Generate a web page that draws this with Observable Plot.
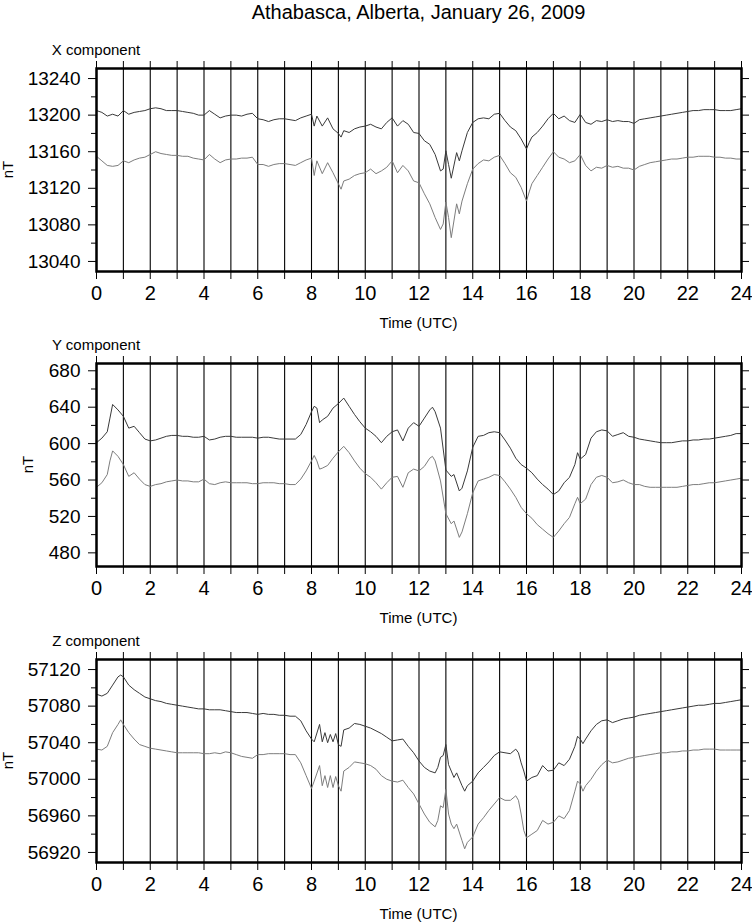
<!DOCTYPE html>
<html><head><meta charset="utf-8">
<script src="https://cdn.jsdelivr.net/npm/d3@7"></script>
<script src="https://cdn.jsdelivr.net/npm/@observablehq/plot@0.6"></script>
<style>
html,body{margin:0;padding:0;background:#fff;overflow:hidden;}
#root{position:relative;width:752px;height:923px;font-family:"Liberation Sans",Arial,Helvetica,sans-serif;}
#root svg{position:absolute;left:0;}
</style></head><body><div id="root"></div>
<script>
const chartTitle = "Athabasca, Alberta, January 26, 2009";
const xAxisLabel = "Time (UTC)";
const yAxisLabel = "nT";
const hourTicks = [0,1,2,3,4,5,6,7,8,9,10,11,12,13,14,15,16,17,18,19,20,21,22,23,24];

// X component: [hour UTC, nT]
const xUpper = [[0,13205],[0.2,13203],[0.4,13199],[0.6,13201],[0.8,13199],[1,13205],[1.2,13201],[1.4,13203],[1.6,13204],[1.8,13205],[2,13207],[2.2,13208],[2.4,13207],[2.6,13205],[2.8,13205],[3,13205],[3.2,13204],[3.4,13203],[3.6,13202],[3.8,13200],[4,13200],[4.2,13205],[4.4,13201],[4.6,13197],[4.8,13199],[5,13200],[5.2,13200],[5.4,13199],[5.6,13201],[5.8,13202],[6,13196],[6.2,13195],[6.4,13193],[6.6,13195],[6.8,13196],[7,13196],[7.2,13195],[7.4,13194],[7.6,13197],[7.8,13199],[8,13201],[8.1,13188],[8.2,13199],[8.4,13188],[8.6,13197],[8.8,13185],[9,13180],[9.1,13176],[9.2,13183],[9.4,13181],[9.6,13185],[9.8,13187],[10,13188],[10.2,13190],[10.4,13187],[10.6,13185],[10.8,13192],[11,13197],[11.2,13188],[11.4,13194],[11.6,13190],[11.8,13181],[12,13180],[12.2,13172],[12.4,13168],[12.6,13157],[12.8,13139],[12.9,13141],[13,13161],[13.1,13146],[13.2,13131],[13.4,13159],[13.5,13150],[13.6,13161],[13.8,13181],[14,13192],[14.2,13196],[14.4,13197],[14.6,13196],[14.8,13201],[15,13202],[15.2,13194],[15.4,13187],[15.6,13183],[15.8,13174],[16,13163],[16.1,13170],[16.2,13176],[16.4,13181],[16.6,13188],[16.8,13196],[17,13202],[17.2,13196],[17.4,13199],[17.6,13194],[17.8,13192],[18,13201],[18.2,13192],[18.4,13190],[18.6,13194],[18.8,13193],[19,13195],[19.2,13193],[19.4,13194],[19.6,13193],[19.8,13193],[20,13191],[20.2,13195],[20.4,13196],[20.6,13197],[20.8,13198],[21,13199],[21.2,13200],[21.4,13201],[21.6,13202],[21.8,13203],[22,13204],[22.2,13205],[22.4,13205],[22.6,13206],[22.8,13206],[23,13206],[23.2,13205],[23.4,13205],[23.6,13205],[23.8,13206],[24,13207]];
const xLower = [[0,13155],[0.2,13150],[0.4,13145],[0.6,13144],[0.8,13145],[1,13150],[1.2,13148],[1.4,13151],[1.6,13153],[1.8,13154],[2,13157],[2.2,13160],[2.4,13158],[2.6,13157],[2.8,13156],[3,13156],[3.2,13155],[3.4,13155],[3.6,13153],[3.8,13152],[4,13151],[4.2,13157],[4.4,13152],[4.6,13148],[4.8,13151],[5,13152],[5.2,13152],[5.4,13153],[5.6,13153],[5.8,13154],[6,13146],[6.2,13146],[6.4,13144],[6.6,13146],[6.8,13147],[7,13147],[7.2,13146],[7.4,13145],[7.6,13148],[7.8,13151],[8,13153],[8.1,13134],[8.2,13150],[8.4,13136],[8.6,13148],[8.8,13137],[9,13125],[9.1,13119],[9.2,13128],[9.4,13130],[9.6,13134],[9.8,13136],[10,13137],[10.2,13141],[10.4,13136],[10.6,13139],[10.8,13143],[11,13150],[11.2,13137],[11.4,13145],[11.6,13139],[11.8,13128],[12,13126],[12.2,13114],[12.4,13103],[12.6,13088],[12.8,13075],[12.9,13081],[13,13105],[13.1,13088],[13.2,13066],[13.4,13103],[13.5,13092],[13.6,13106],[13.8,13125],[14,13141],[14.2,13147],[14.4,13151],[14.6,13150],[14.8,13154],[15,13156],[15.2,13147],[15.4,13137],[15.6,13132],[15.8,13121],[16,13106],[16.1,13116],[16.2,13125],[16.4,13134],[16.6,13143],[16.8,13152],[17,13160],[17.2,13154],[17.4,13152],[17.6,13148],[17.8,13150],[18,13157],[18.2,13145],[18.4,13139],[18.6,13143],[18.8,13142],[19,13145],[19.2,13143],[19.4,13144],[19.6,13142],[19.8,13142],[20,13140],[20.2,13144],[20.4,13146],[20.6,13148],[20.8,13149],[21,13150],[21.2,13151],[21.4,13152],[21.6,13152],[21.8,13153],[22,13154],[22.2,13154],[22.4,13155],[22.6,13155],[22.8,13155],[23,13154],[23.2,13154],[23.4,13153],[23.6,13153],[23.8,13152],[24,13152]];

// Y component
const yUpper = [[0,601],[0.2,606],[0.4,613],[0.5,628],[0.6,643],[0.8,637],[1,630],[1.2,617],[1.4,619],[1.6,612],[1.8,605],[2,603],[2.2,604],[2.4,606],[2.6,608],[2.8,609],[3,609],[3.2,608],[3.4,608],[3.6,607],[3.8,607],[4,608],[4.2,604],[4.4,605],[4.6,607],[4.8,608],[5,608],[5.2,607],[5.4,607],[5.6,607],[5.8,607],[6,606],[6.2,607],[6.4,607],[6.6,606],[6.8,605],[7,605],[7.2,605],[7.4,605],[7.6,610],[7.8,621],[8,635],[8.1,641],[8.2,639],[8.3,623],[8.4,626],[8.6,630],[8.8,639],[9,644],[9.2,650],[9.4,641],[9.6,632],[9.8,624],[10,617],[10.2,613],[10.4,608],[10.6,601],[10.8,608],[11,613],[11.2,615],[11.4,603],[11.6,617],[11.8,623],[12,619],[12.2,628],[12.4,637],[12.5,640],[12.6,635],[12.8,617],[13,571],[13.2,564],[13.3,566],[13.5,548],[13.6,551],[13.8,570],[14,596],[14.2,608],[14.4,609],[14.6,612],[14.8,613],[15,612],[15.2,604],[15.4,595],[15.6,584],[15.8,577],[16,573],[16.2,568],[16.4,561],[16.6,555],[16.8,550],[17,544],[17.2,548],[17.4,557],[17.6,563],[17.8,577],[17.9,590],[18,583],[18.2,588],[18.4,606],[18.6,613],[18.8,615],[19,614],[19.2,608],[19.4,610],[19.6,612],[19.8,608],[20,607],[20.2,605],[20.4,604],[20.6,603],[20.8,602],[21,601],[21.2,601],[21.4,601],[21.6,602],[21.8,603],[22,603],[22.2,604],[22.4,604],[22.6,605],[22.8,605],[23,606],[23.2,607],[23.4,608],[23.6,609],[23.8,611],[24,611]];
const yLower = [[0,552],[0.2,557],[0.4,566],[0.5,581],[0.6,592],[0.8,586],[1,577],[1.2,564],[1.4,568],[1.6,561],[1.8,555],[2,553],[2.2,555],[2.4,556],[2.6,558],[2.8,559],[3,560],[3.2,559],[3.4,559],[3.6,558],[3.8,558],[4,561],[4.2,556],[4.4,555],[4.6,557],[4.8,558],[5,557],[5.2,557],[5.4,557],[5.6,557],[5.8,556],[6,556],[6.2,557],[6.4,557],[6.6,557],[6.8,556],[7,556],[7.2,555],[7.4,555],[7.6,561],[7.8,570],[8,581],[8.1,587],[8.2,581],[8.3,572],[8.4,573],[8.6,576],[8.8,584],[9,591],[9.2,597],[9.4,590],[9.6,581],[9.8,573],[10,567],[10.2,563],[10.4,557],[10.6,550],[10.8,557],[11,563],[11.2,564],[11.4,552],[11.6,568],[11.8,572],[12,570],[12.2,575],[12.4,584],[12.5,586],[12.6,581],[12.8,559],[13,523],[13.2,512],[13.3,515],[13.5,497],[13.6,503],[13.8,523],[14,546],[14.2,559],[14.4,561],[14.6,563],[14.8,566],[15,565],[15.2,558],[15.4,550],[15.6,541],[15.8,530],[16,523],[16.2,518],[16.4,511],[16.6,506],[16.8,501],[17,497],[17.2,504],[17.4,512],[17.6,519],[17.8,534],[17.9,541],[18,534],[18.2,539],[18.4,555],[18.6,563],[18.8,565],[19,563],[19.2,557],[19.4,558],[19.6,560],[19.8,557],[20,555],[20.2,555],[20.4,553],[20.6,552],[20.8,552],[21,552],[21.2,552],[21.4,552],[21.6,552],[21.8,553],[22,554],[22.2,555],[22.4,555],[22.6,556],[22.8,557],[23,557],[23.2,558],[23.4,559],[23.6,560],[23.8,561],[24,562]];

// Z component
const zUpper = [[0,57093],[0.2,57091],[0.4,57094],[0.6,57103],[0.8,57112],[0.9,57114],[1,57112],[1.2,57103],[1.4,57098],[1.6,57094],[1.8,57090],[2,57088],[2.2,57086],[2.4,57085],[2.6,57083],[2.8,57082],[3,57081],[3.2,57080],[3.4,57079],[3.6,57078],[3.8,57077],[4,57077],[4.2,57076],[4.4,57076],[4.6,57076],[4.8,57075],[5,57074],[5.2,57073],[5.4,57073],[5.6,57073],[5.8,57072],[6,57071],[6.2,57072],[6.4,57071],[6.6,57071],[6.8,57070],[7,57070],[7.2,57069],[7.4,57069],[7.6,57064],[7.8,57053],[8,57044],[8.1,57041],[8.3,57060],[8.4,57041],[8.5,57051],[8.6,57040],[8.7,57049],[8.8,57041],[8.9,57050],[9,57038],[9.1,57036],[9.2,57054],[9.4,57056],[9.6,57061],[9.8,57060],[10,57058],[10.2,57056],[10.4,57053],[10.6,57050],[10.8,57046],[11,57042],[11.2,57043],[11.4,57044],[11.6,57036],[11.8,57029],[12,57020],[12.2,57013],[12.4,57009],[12.6,57007],[12.7,57013],[12.8,57024],[12.9,57026],[13,57038],[13.1,57016],[13.2,57009],[13.3,57002],[13.4,57007],[13.6,56993],[13.7,56987],[13.8,56993],[14,56998],[14.2,57007],[14.4,57013],[14.6,57019],[14.8,57026],[15,57030],[15.2,57029],[15.4,57028],[15.6,57033],[15.7,57029],[15.8,57018],[15.9,57009],[16,56998],[16.2,57002],[16.4,57004],[16.6,57015],[16.8,57009],[17,57010],[17.2,57018],[17.4,57015],[17.6,57022],[17.8,57036],[17.9,57047],[18,57044],[18.1,57039],[18.2,57044],[18.4,57053],[18.6,57060],[18.8,57064],[19,57065],[19.2,57062],[19.4,57064],[19.6,57066],[19.8,57067],[20,57068],[20.2,57070],[20.4,57071],[20.6,57072],[20.8,57073],[21,57074],[21.2,57075],[21.4,57076],[21.6,57077],[21.8,57078],[22,57079],[22.2,57080],[22.4,57081],[22.6,57081],[22.8,57082],[23,57083],[23.2,57083],[23.4,57084],[23.6,57085],[23.8,57086],[24,57087]];
const zLower = [[0,57033],[0.2,57032],[0.4,57036],[0.6,57051],[0.8,57060],[0.9,57065],[1,57060],[1.2,57051],[1.4,57044],[1.6,57038],[1.8,57036],[2,57034],[2.2,57033],[2.4,57032],[2.6,57031],[2.8,57030],[3,57029],[3.2,57029],[3.4,57029],[3.6,57029],[3.8,57029],[4,57028],[4.2,57028],[4.4,57029],[4.6,57028],[4.8,57030],[5,57029],[5.2,57027],[5.4,57025],[5.6,57024],[5.8,57023],[6,57027],[6.2,57027],[6.4,57028],[6.6,57028],[6.8,57028],[7,57028],[7.2,57027],[7.4,57027],[7.6,57018],[7.8,57004],[8,56990],[8.1,56998],[8.3,57015],[8.4,56993],[8.5,57004],[8.6,56991],[8.7,57004],[8.8,56991],[8.9,57003],[9,56993],[9.1,56987],[9.2,57009],[9.4,57013],[9.6,57019],[9.8,57018],[10,57017],[10.2,57015],[10.4,57011],[10.6,57004],[10.8,57000],[11,56998],[11.2,56997],[11.4,56999],[11.6,56991],[11.8,56984],[12,56973],[12.2,56962],[12.4,56953],[12.6,56948],[12.7,56955],[12.8,56971],[12.9,56969],[13,56989],[13.1,56962],[13.2,56951],[13.3,56946],[13.4,56951],[13.6,56933],[13.7,56924],[13.8,56931],[14,56937],[14.2,56951],[14.4,56958],[14.6,56966],[14.8,56973],[15,56980],[15.2,56977],[15.4,56977],[15.6,56982],[15.7,56977],[15.8,56962],[15.9,56944],[16,56936],[16.2,56940],[16.4,56944],[16.6,56955],[16.8,56951],[17,56953],[17.2,56960],[17.4,56957],[17.6,56966],[17.8,56987],[17.9,56998],[18,56995],[18.1,56987],[18.2,56993],[18.4,57000],[18.6,57009],[18.8,57016],[19,57021],[19.2,57018],[19.4,57019],[19.6,57021],[19.8,57023],[20,57024],[20.2,57025],[20.4,57026],[20.6,57027],[20.8,57028],[21,57029],[21.2,57029],[21.4,57030],[21.6,57030],[21.8,57031],[22,57031],[22.2,57032],[22.4,57032],[22.6,57033],[22.8,57033],[23,57033],[23.2,57032],[23.4,57032],[23.6,57032],[23.8,57032],[24,57032]];

const xMajor = [13040,13080,13120,13160,13200,13240];
const xMinor = [13060,13100,13140,13180,13220];
const yMajor = [480,520,560,600,640,680];
const yMinor = [500,540,580,620,660];
const zMajor = [56920,56960,57000,57040,57080,57120];
const zMinor = [56940,56980,57020,57060,57100];

const panelNames = ["X component","Y component","Z component"];

const panels = [
  {name: panelNames[0], upper: xUpper, lower: xLower, domain: [13029,13251], major: xMajor, minor: xMinor, top: 0, marginTop: 68, nTx: 13, title: true},
  {name: panelNames[1], upper: yUpper, lower: yLower, domain: [465,688], major: yMajor, minor: yMinor, top: 324.5, marginTop: 38, nTx: 33},
  {name: panelNames[2], upper: zUpper, lower: zLower, domain: [56909,57131], major: zMajor, minor: zMinor, top: 621, marginTop: 38, nTx: 13}
];

const FONT = "'Liberation Sans', Arial, Helvetica, sans-serif";
const root = document.getElementById("root");
const toRows = s => s.map(([t, v]) => ({t, v}));
const blank = () => "";

for (const p of panels) {
  const fh = 203;
  const mb = 60;
  const height = p.marginTop + fh + mb;
  const svg = Plot.plot({
    width: 752, height,
    marginLeft: 96, marginRight: 11, marginTop: p.marginTop, marginBottom: mb,
    style: `background: transparent; color: black; font-family: ${FONT}; overflow: visible;`,
    x: {domain: [0, 24], label: null},
    y: {domain: p.domain, label: null},
    marks: [
      Plot.ruleX(hourTicks, {stroke: "black", strokeWidth: 1.1}),
      Plot.line(toRows(p.lower), {x: "t", y: "v", stroke: "#7d7d7d", strokeWidth: 1}),
      Plot.line(toRows(p.upper), {x: "t", y: "v", stroke: "#3a3a3a", strokeWidth: 1}),
      Plot.frame({stroke: "black", strokeWidth: 2.5}),
      Plot.axisX(hourTicks, {anchor: "bottom", tickSize: 8, tickPadding: 6, fontSize: 20, tickFormat: d => d % 2 ? "" : String(d), label: null}),
      Plot.axisX(hourTicks, {anchor: "top", tickSize: 8, tickFormat: blank, label: null}),
      Plot.axisY(p.major, {anchor: "left", tickSize: 8, tickPadding: 8, fontSize: 19, tickFormat: d => String(d), label: null}),
      Plot.axisY(p.minor, {anchor: "left", tickSize: 5, tickFormat: blank, label: null}),
      Plot.axisY(p.major, {anchor: "right", tickSize: 7, tickFormat: blank, label: null}),
      Plot.axisY(p.minor, {anchor: "right", tickSize: 4, tickFormat: blank, label: null})
    ]
  });
  svg.style.top = p.top + "px";
  const s = d3.select(svg);
  s.append("text").attr("x", 96).attr("y", p.marginTop - 13)
    .attr("font-size", 15).attr("fill", "black").attr("font-family", FONT).text(p.name);
  s.append("text").attr("x", 96 + (752 - 96 - 11) / 2).attr("y", p.marginTop + fh + 57)
    .attr("text-anchor", "middle").attr("font-size", 15).attr("fill", "black").attr("font-family", FONT).text(xAxisLabel);
  s.append("text").attr("transform", `translate(${p.nTx},${p.marginTop + fh / 2}) rotate(-90)`)
    .attr("text-anchor", "middle").attr("font-size", 15).attr("fill", "black").attr("font-family", FONT).text(yAxisLabel);
  if (p.title) {
    s.append("text").attr("x", 96 + (752 - 96 - 11) / 2).attr("y", 19)
      .attr("text-anchor", "middle").attr("font-size", 20).attr("fill", "black").attr("font-family", FONT).text(chartTitle);
  }
  root.appendChild(svg);
}
</script></body></html>
